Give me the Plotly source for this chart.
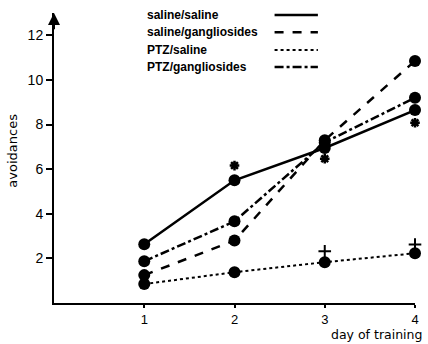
import plotly.graph_objects as go

days = [1, 2, 3, 4]
saline_saline = [2.63, 5.5, 6.95, 8.65]
saline_gang = [1.25, 2.8, 7.3, 10.85]
ptz_saline = [0.85, 1.38, 1.83, 2.23]
ptz_gang = [1.87, 3.66, 7.2, 9.2]

star_days = [2, 3, 4]
star_vals = [6.16, 6.47, 8.08]
plus_days = [3, 4]
plus_vals = [2.32, 2.62]

names = ["saline/saline", "saline/gangliosides", "PTZ/saline", "PTZ/gangliosides"]
series = [saline_saline, saline_gang, ptz_saline, ptz_gang]
dashes = ["solid", "dash", "dot", "dashdot"]
widths = [2.5, 2.5, 2, 2.5]

fig = go.Figure()
for nm, s, d, w in zip(names, series, dashes, widths):
    fig.add_trace(go.Scatter(x=days, y=s, mode="lines+markers", name=nm,
                             line=dict(color="black", dash=d, width=w),
                             marker=dict(color="black", size=12),
                             cliponaxis=False, showlegend=False))

fig.add_trace(go.Scatter(x=star_days, y=star_vals, mode="markers",
                         marker=dict(symbol="asterisk-open", size=8, color="black",
                                     line=dict(color="black", width=2.5)),
                         cliponaxis=False, showlegend=False))
fig.add_trace(go.Scatter(x=plus_days, y=plus_vals, mode="markers",
                         marker=dict(symbol="cross-thin-open", size=9, color="black",
                                     line=dict(color="black", width=2)),
                         cliponaxis=False, showlegend=False))

# manual legend (text left, line sample right)
leg_y = [0.993, 0.934, 0.872, 0.814]
for nm, d, w, yy in zip(names, dashes, widths, leg_y):
    fig.add_annotation(x=0.252, y=yy, xref="paper", yref="paper", text="<b>" + nm + "</b>",
                       showarrow=False, xanchor="left", yanchor="middle",
                       font=dict(family="Liberation Sans", size=12, color="black"))
    fig.add_shape(type="line", xref="paper", yref="paper", x0=0.611, x1=0.731, y0=yy, y1=yy,
                  line=dict(color="black", dash=d, width=w))

# y-axis arrow
fig.add_annotation(x=0, y=13, ax=0, ay=12.2, xref="x", yref="y", axref="x", ayref="y",
                   text="", showarrow=True, arrowhead=2, arrowsize=1.2, arrowwidth=2,
                   arrowcolor="black")

fig.add_annotation(x=-0.115, y=0.527, xref="paper", yref="paper", text="avoidances",
                   textangle=-90, showarrow=False, xanchor="center", yanchor="middle",
                   font=dict(family="DejaVu Sans", size=13, color="black"))
fig.add_annotation(x=1.025, y=-0.11, xref="paper", yref="paper", text="day of training",
                   showarrow=False, xanchor="right", yanchor="middle",
                   font=dict(family="DejaVu Sans", size=12.5, color="black"))

fig.update_layout(
    width=428, height=344,
    margin=dict(l=54, r=9, t=13, b=41),
    plot_bgcolor="white", paper_bgcolor="white",
    font=dict(family="Liberation Sans", size=14, color="black"),
    xaxis=dict(range=[0, 4], tickvals=[1, 2, 3, 4], showgrid=False, zeroline=False,
               showline=True, linecolor="black", linewidth=2, ticks="outside",
               ticklen=3, tickwidth=1.5, tickcolor="black", tickfont=dict(size=13)),
    yaxis=dict(range=[0, 13], tickvals=[2, 4, 6, 8, 10, 12], showgrid=False, zeroline=False,
               showline=True, linecolor="black", linewidth=2, ticks="outside",
               ticklen=6, tickwidth=1.5, tickcolor="black"),
)

fig.write_html("out.html", post_script="document.body.style.margin='0';",
               config={"displayModeBar": False})
